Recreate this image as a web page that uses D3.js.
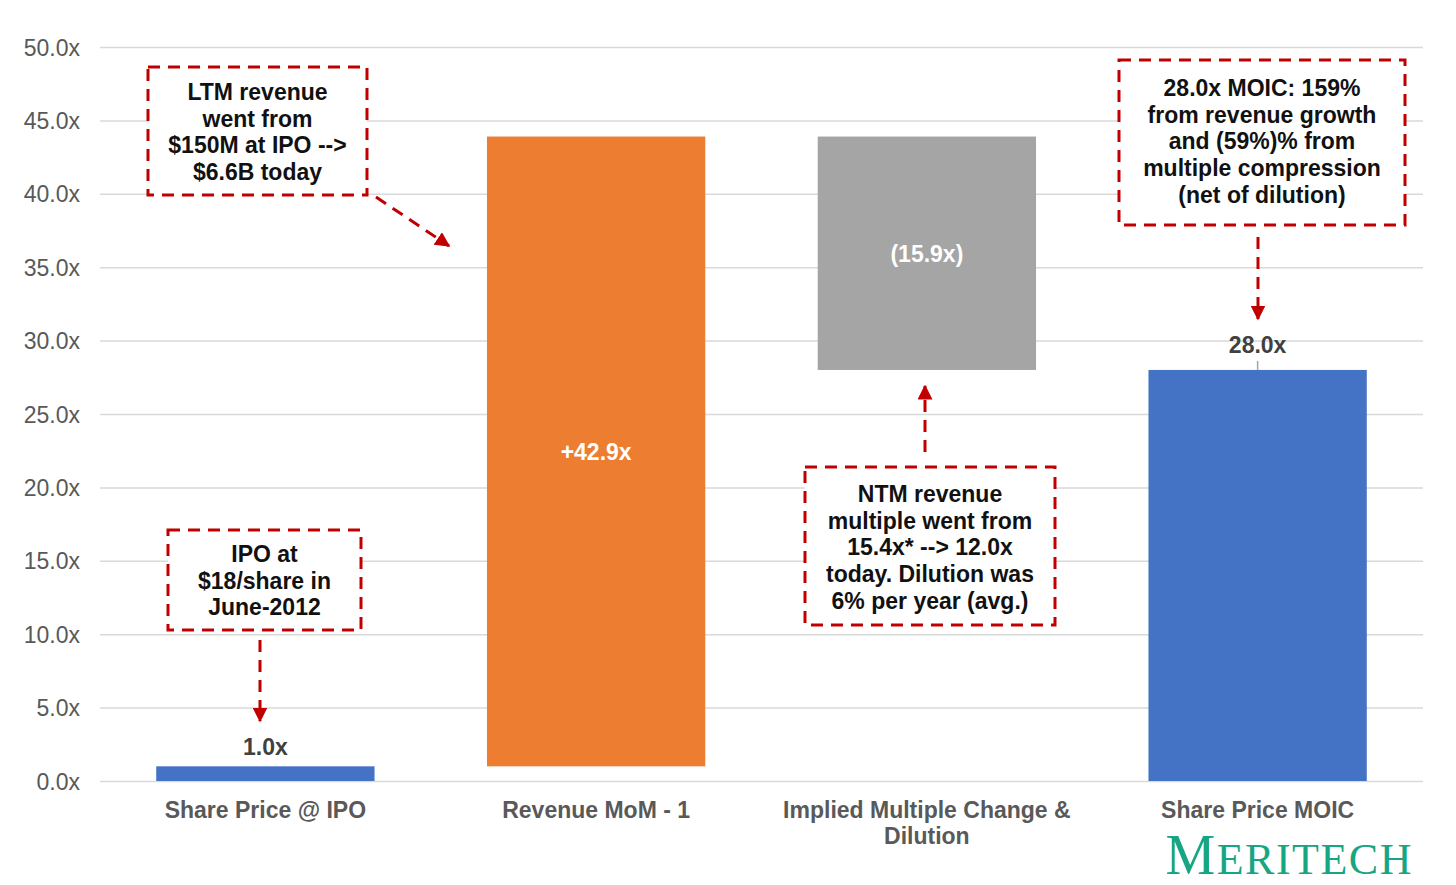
<!DOCTYPE html>
<html>
<head>
<meta charset="utf-8">
<script src="https://cdn.jsdelivr.net/npm/d3@7"></script>
<style>
  html, body { margin: 0; padding: 0; background: #fff; }
  svg { display: block; font-family: "Liberation Sans", Arial, sans-serif; }
</style>
</head>
<body>
<div class="chart"></div>
<script>
// Data
const categories = ["Share Price @ IPO", "Revenue MoM - 1", "Implied Multiple Change & Dilution", "Share Price MOIC"];
const categoryLines = [["Share Price @ IPO"], ["Revenue MoM - 1"], ["Implied Multiple Change &", "Dilution"], ["Share Price MOIC"]];
const steps = [1.0, 42.9, -15.9, 28.0];
const stepTypes = ["total", "delta", "delta", "total"];
const barLabels = ["1.0x", "+42.9x", "(15.9x)", "28.0x"];
const yTicks = [0, 5, 10, 15, 20, 25, 30, 35, 40, 45, 50];

const notes = [
    ["LTM revenue", "went from", "$150M at IPO -->", "$6.6B today"],
    ["IPO at", "$18/share in", "June-2012"],
    ["NTM revenue", "multiple went from", "15.4x* --> 12.0x", "today. Dilution was", "6% per year (avg.)"],
    ["28.0x MOIC: 159%", "from revenue growth", "and (59%)% from", "multiple compression", "(net of dilution)"]
];

// Waterfall start / end from the steps
let running = 0;
const bars = steps.map((v, i) => {
    let start, end;
    if (stepTypes[i] === "total") { start = 0; end = v; running = v; }
    else { start = running; end = running + v; running = end; }
    return { cat: categories[i], start, end, label: barLabels[i], index: i };
});

// SVG properties
const width = 1456, height = 885;
const plotLeft = 100, plotRight = 1423, plotTop = 47, plotBottom = 781;
const colors = ["#4472C4", "#ED7D31", "#A5A5A5", "#4472C4"];
const red = "#C00000";
const fontSize = 23;

const svg = d3.select(".chart").append("svg")
    .attr("width", width)
    .attr("height", height);

const x = d3.scaleBand()
    .domain(categories)
    .range([plotLeft, plotRight])
    .paddingInner(0.34)
    .paddingOuter(0.17);

const y = d3.scaleLinear()
    .domain([0, 50])
    .range([plotBottom, plotTop]);

// gridlines + y labels
const yAxis = d3.axisLeft(y)
    .tickValues(yTicks)
    .tickSize(-(plotRight - plotLeft))
    .tickPadding(20)
    .tickFormat(d => d.toFixed(1) + "x");

const gy = svg.append("g")
    .attr("transform", `translate(${plotLeft},0)`)
    .call(yAxis);
gy.select(".domain").remove();
gy.selectAll(".tick line").attr("stroke", "#D9D9D9").attr("stroke-width", 1.5);
gy.selectAll(".tick text")
    .attr("fill", "#595959")
    .attr("font-size", fontSize)
    .attr("dy", "0.35em")
    .attr("font-family", "'Liberation Sans', Arial, sans-serif");

// bars
svg.selectAll("rect.bar")
    .data(bars)
    .enter()
    .append("rect")
    .attr("class", "bar")
    .attr("x", d => x(d.cat))
    .attr("width", x.bandwidth())
    .attr("y", d => y(Math.max(d.start, d.end)))
    .attr("height", d => Math.abs(y(d.start) - y(d.end)))
    .attr("fill", (d, i) => colors[i]);

// bar labels
const cx = d => x(d.cat) + x.bandwidth() / 2;
svg.selectAll("text.bar-label")
    .data(bars)
    .enter()
    .append("text")
    .attr("class", "bar-label")
    .attr("text-anchor", "middle")
    .attr("font-size", fontSize)
    .attr("font-weight", "bold")
    .attr("x", cx)
    .attr("y", d => {
        if (stepTypes[d.index] === "total") return y(d.end) - (d.index === 3 ? 17 : 11);
        return (y(d.start) + y(d.end)) / 2 + 9;
    })
    .attr("fill", d => stepTypes[d.index] === "total" ? "#404040" : "#fff")
    .text(d => d.label);

// leader line for last label
svg.append("line")
    .attr("x1", cx(bars[3])).attr("x2", cx(bars[3]))
    .attr("y1", y(bars[3].end) - 9).attr("y2", y(bars[3].end))
    .attr("stroke", "#A6A6A6").attr("stroke-width", 1.5);

// category labels
const catG = svg.selectAll("text.cat")
    .data(categoryLines)
    .enter()
    .append("text")
    .attr("class", "cat")
    .attr("text-anchor", "middle")
    .attr("font-size", fontSize)
    .attr("font-weight", "bold")
    .attr("fill", "#595959")
    .attr("x", (d, i) => x(categories[i]) + x.bandwidth() / 2)
    .attr("y", plotBottom + 37);
catG.selectAll("tspan")
    .data(d => d)
    .enter()
    .append("tspan")
    .attr("x", function () { return this.parentNode.getAttribute("x"); })
    .attr("dy", (d, i) => i === 0 ? 0 : 26)
    .text(d => d);

// annotations
const defs = svg.append("defs");
defs.append("marker")
    .attr("id", "head")
    .attr("viewBox", "0 0 10 10")
    .attr("refX", 9).attr("refY", 5)
    .attr("markerWidth", 5).attr("markerHeight", 5)
    .attr("markerUnits", "strokeWidth")
    .attr("orient", "auto")
    .append("path")
    .attr("d", "M0,0 L10,5 L0,10 Z")
    .attr("fill", red);

const boxes = [
    { x0: 148, y0: 67, x1: 367, y1: 195, firstLine: 100, arrow: [376, 197, 449, 246] },
    { x0: 168, y0: 530, x1: 361, y1: 630, firstLine: 562, arrow: [260, 640, 260, 721] },
    { x0: 805, y0: 467, x1: 1055, y1: 625, firstLine: 502, arrow: [925, 452, 925, 386] },
    { x0: 1119, y0: 60, x1: 1405, y1: 225, firstLine: 96, arrow: [1258, 237, 1258, 319] }
];

boxes.forEach((b, i) => {
    svg.append("rect")
        .attr("x", b.x0).attr("y", b.y0)
        .attr("width", b.x1 - b.x0).attr("height", b.y1 - b.y0)
        .attr("fill", "#fff")
        .attr("stroke", red)
        .attr("stroke-width", 3)
        .attr("stroke-dasharray", "12,8");
    const t = svg.append("text")
        .attr("text-anchor", "middle")
        .attr("font-size", fontSize)
        .attr("font-weight", "bold")
        .attr("fill", "#111");
    notes[i].forEach((line, j) => {
        t.append("tspan")
            .attr("x", (b.x0 + b.x1) / 2)
            .attr("y", b.firstLine + j * 26.7)
            .text(line);
    });
    svg.append("line")
        .attr("x1", b.arrow[0]).attr("y1", b.arrow[1])
        .attr("x2", b.arrow[2]).attr("y2", b.arrow[3])
        .attr("stroke", red)
        .attr("stroke-width", 3)
        .attr("stroke-dasharray", "12,8")
        .attr("marker-end", "url(#head)");
});

// logo
const logo = svg.append("text")
    .attr("x", 1413).attr("y", 874)
    .attr("text-anchor", "end")
    .attr("fill", "#17A683")
    .attr("font-family", "'Liberation Serif', 'DejaVu Serif', serif")
    .attr("letter-spacing", 1.5);
logo.append("tspan").attr("font-size", 56).text("M");
logo.append("tspan").attr("font-size", 44).text("ERITECH");
</script>
</body>
</html>
